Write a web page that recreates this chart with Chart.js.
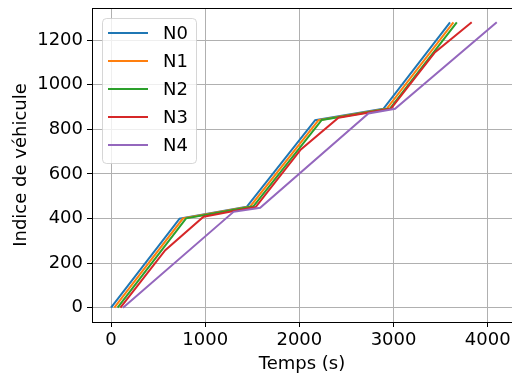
<!DOCTYPE html>
<html>
<head>
<meta charset="utf-8">
<script src="https://cdn.jsdelivr.net/npm/chart.js@4/dist/chart.umd.min.js"></script>
<style>
    html, body { margin: 0; padding: 0; background: #fff; }
    #wrap { width: 512px; height: 379px; }
</style>
</head>
<body>
<div id="wrap"><canvas id="chart" width="512" height="379"></canvas></div>
<script>
// Series: time (s) and vehicle index at each corner
const seriesLabels = ["N0", "N1", "N2", "N3", "N4"];

const n0Time  = [0, 728, 1443, 2168, 2892, 3600];
const n0Index = [0, 399, 453, 841, 892, 1280];

const n1Time  = [35, 763, 1478, 2203, 2927, 3636];
const n1Index = [0, 400, 454, 841, 892, 1280];

const n2Time  = [70, 797, 1512, 2238, 2962, 3672];
const n2Index = [0, 401, 455, 842, 893, 1280];

const n3Time  = [100, 576, 982, 1538, 2016, 2415, 2971, 3441, 3830];
const n3Index = [0, 258, 408, 452, 710, 852, 892, 1146, 1280];

const n4Time  = [127, 1301, 1584, 2733, 3016, 4096];
const n4Index = [0, 430, 448, 871, 892, 1280];

const xTicks = [0, 1000, 2000, 3000, 4000];
const yTicks = [0, 200, 400, 600, 800, 1000, 1200];

const colors = ["#1f77b4", "#ff7f0e", "#2ca02c", "#d62728", "#9467bd"];

const times = [n0Time, n1Time, n2Time, n3Time, n4Time];
const indices = [n0Index, n1Index, n2Index, n3Index, n4Index];

const FONT = "'DejaVu Sans', sans-serif";
Chart.defaults.color = "#000";
Chart.defaults.font.family = FONT;
Chart.defaults.font.size = 18;

// no extra room for half tick labels, the plot box is fixed
const noPadding = (scale) => {
    scale.paddingTop = 0;
    scale.paddingBottom = 0;
    scale.paddingLeft = 0;
    scale.paddingRight = 0;
};

// matplotlib style legend in the upper left corner of the plot
const boxLegend = {
    id: "boxLegend",
    afterDraw(chart) {
        const ctx = chart.ctx;
        const area = chart.chartArea;
        const left = area.left + 10;
        const top = area.top + 10;
        const w = 94, h = 145, r = 4;
        ctx.save();
        ctx.beginPath();
        ctx.roundRect(left + 0.5, top + 0.5, w, h, r);
        ctx.fillStyle = "rgba(255,255,255,0.8)";
        ctx.fill();
        ctx.strokeStyle = "rgba(204,204,204,0.8)";
        ctx.lineWidth = 1;
        ctx.stroke();
        ctx.font = "18px " + FONT;
        ctx.textBaseline = "middle";
        ctx.textAlign = "left";
        chart.data.datasets.forEach((ds, i) => {
            const y = top + 15 + i * 28;
            ctx.beginPath();
            ctx.moveTo(left + 6, y);
            ctx.lineTo(left + 46, y);
            ctx.strokeStyle = ds.borderColor;
            ctx.lineWidth = 2;
            ctx.stroke();
            ctx.fillStyle = "#000";
            ctx.fillText(ds.label, left + 61, y + 1);
        });
        // top spine
        ctx.beginPath();
        ctx.moveTo(area.left, area.top + 0.5);
        ctx.lineTo(area.right, area.top + 0.5);
        ctx.strokeStyle = "#000";
        ctx.lineWidth = 1;
        ctx.stroke();
        ctx.restore();
    }
};

const datasets = seriesLabels.map((label, i) => ({
    label: label,
    data: times[i].map((t, k) => ({ x: t, y: indices[i][k] })),
    borderColor: colors[i],
    backgroundColor: colors[i],
    borderWidth: 2,
    pointRadius: 0,
    tension: 0,
    fill: false,
    order: seriesLabels.length - i
}));

new Chart(document.getElementById("chart").getContext("2d"), {
    type: "line",
    data: { datasets: datasets },
    plugins: [boxLegend],
    options: {
        responsive: false,
        animation: false,
        layout: { padding: { top: 8, right: 0, left: 0, bottom: 0 } },
        plugins: {
            legend: { display: false },
            tooltip: { enabled: false }
        },
        scales: {
            x: {
                type: "linear",
                min: -202,
                max: 4258,
                afterBuildTicks: (scale) => { scale.ticks = xTicks.map(v => ({ value: v })); },
                afterFit: (scale) => { scale.height = 57; noPadding(scale); },
                ticks: { padding: 3, maxRotation: 0, callback: (v) => String(v) },
                grid: { color: "#b0b0b0", lineWidth: 1, tickLength: 5, tickColor: "#000" },
                border: { color: "#000", width: 1 },
                title: { display: true, text: "Temps (s)", padding: { top: 0, bottom: 4 } }
            },
            y: {
                type: "linear",
                min: -64,
                max: 1344,
                afterBuildTicks: (scale) => { scale.ticks = yTicks.map(v => ({ value: v })); },
                afterFit: (scale) => { scale.width = 92; noPadding(scale); },
                ticks: { padding: 4, callback: (v) => String(v) },
                grid: { color: "#b0b0b0", lineWidth: 1, tickLength: 5, tickColor: "#000" },
                border: { color: "#000", width: 1 },
                title: { display: true, text: "Indice de véhicule", padding: { top: 11, bottom: 0 } }
            }
        }
    }
});
</script>
</body>
</html>
